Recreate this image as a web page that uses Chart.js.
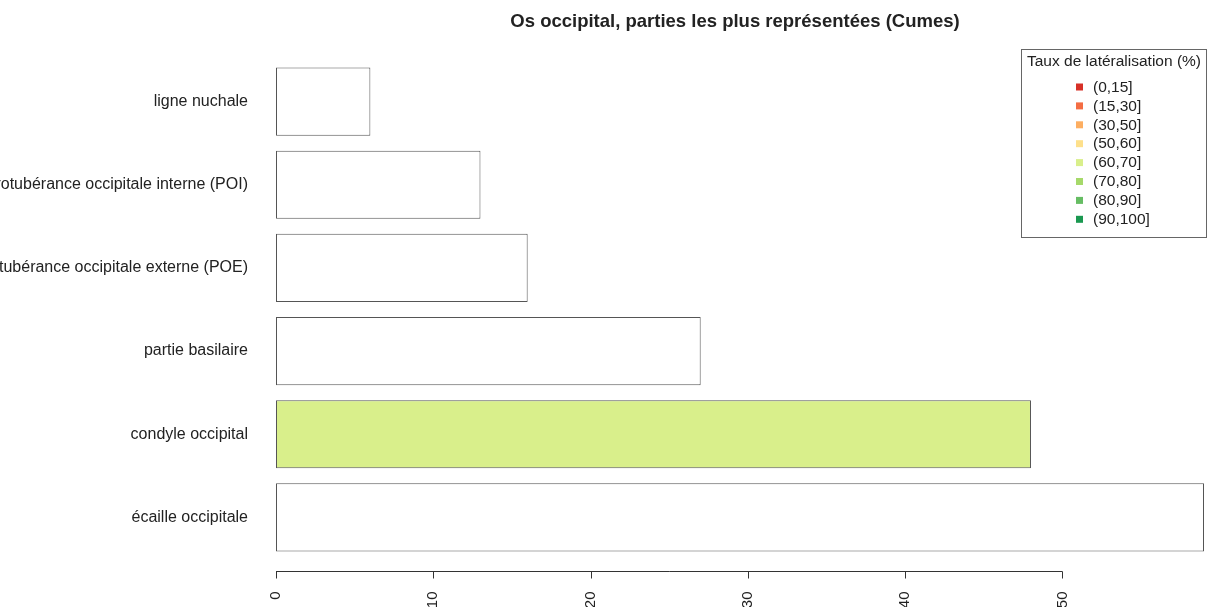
<!DOCTYPE html>
<html>
<head>
<meta charset="utf-8">
<script src="https://cdn.jsdelivr.net/npm/chart.js@4.4.1/dist/chart.umd.min.js"></script>
<style>
  html, body { margin: 0; padding: 0; background: #fff; }
  #wrap { width: 1209px; height: 607px; position: relative; }
</style>
</head>
<body>
<div id="wrap"><canvas id="chart"></canvas></div>
<script>
const titleText = "Os occipital, parties les plus représentées (Cumes)";
const parts = [
  "ligne nuchale",
  "protubérance occipitale interne (POI)",
  "protubérance occipitale externe (POE)",
  "partie basilaire",
  "condyle occipital",
  "écaille occipitale"
];
const counts = [6, 13, 16, 27, 48, 59];
// classe de latéralisation de chaque partie (null = pas de couleur)
const partClass = [null, null, null, null, "(60,70]", null];

const legendTitle = "Taux de latéralisation (%)";
const classLabels = ["(0,15]", "(15,30]", "(30,50]", "(50,60]", "(60,70]", "(70,80]", "(80,90]", "(90,100]"];
const classColors = ["#d73027", "#f46d43", "#fdae61", "#fee08b", "#d9ef8b", "#a6d96a", "#66bd63", "#1a9850"];
const xTicks = [0, 10, 20, 30, 40, 50];

const FONT = "'Liberation Sans', Arial, sans-serif";
const TEXT = "#222";

function colorFor(cls) {
  const i = classLabels.indexOf(cls);
  return i >= 0 ? classColors[i] : "#ffffff";
}

const decorPlugin = {
  id: "decor",
  afterDraw(chart) {
    const ctx = chart.ctx;
    const x = chart.scales.x;
    const area = chart.chartArea;
    ctx.save();

    // titre
    ctx.fillStyle = TEXT;
    ctx.font = "bold 18.5px " + FONT;
    ctx.textAlign = "center";
    ctx.textBaseline = "middle";
    ctx.fillText(titleText, 735, 22);

    // axe des x (0 à 50 seulement, comme R)
    const axisY = area.bottom + 12.5;
    ctx.strokeStyle = "#333";
    ctx.lineWidth = 1;
    ctx.beginPath();
    ctx.moveTo(x.getPixelForValue(xTicks[0]), axisY);
    ctx.lineTo(x.getPixelForValue(xTicks[xTicks.length - 1]), axisY);
    xTicks.forEach(t => {
      const px = Math.round(x.getPixelForValue(t)) + 0.5;
      ctx.moveTo(px, axisY);
      ctx.lineTo(px, axisY + 7);
    });
    ctx.stroke();

    ctx.font = "15px " + FONT;
    ctx.textAlign = "right";
    ctx.textBaseline = "middle";
    xTicks.forEach(t => {
      const px = x.getPixelForValue(t);
      ctx.save();
      ctx.translate(px, axisY + 20);
      ctx.rotate(-Math.PI / 2);
      ctx.fillText(String(t), 0, 0);
      ctx.restore();
    });

    // légende
    ctx.strokeStyle = "#666";
    ctx.strokeRect(1021.5, 49.5, 185, 188);
    ctx.font = "15.5px " + FONT;
    ctx.textAlign = "center";
    ctx.fillText(legendTitle, 1114, 62);
    ctx.textAlign = "left";
    classLabels.forEach((lab, i) => {
      const cy = 87 + i * 18.9;
      ctx.fillStyle = classColors[i];
      ctx.fillRect(1076, cy - 3.5, 7, 7);
      ctx.fillStyle = TEXT;
      ctx.font = "15.5px " + FONT;
      ctx.fillText(lab, 1093, cy + 0.5);
    });

    ctx.restore();
  }
};

new Chart(document.getElementById("chart"), {
  type: "bar",
  data: {
    labels: parts,
    datasets: [{
      data: counts,
      backgroundColor: partClass.map(colorFor),
      borderColor: "#555",
      borderWidth: 1,
      borderSkipped: false,
      barPercentage: 0.82,
      categoryPercentage: 1
    }]
  },
  options: {
    indexAxis: "y",
    responsive: true,
    maintainAspectRatio: false,
    animation: false,
    layout: { padding: { top: 60, bottom: 48, left: 0, right: 5 } },
    plugins: {
      legend: { display: false },
      title: { display: false },
      tooltip: { enabled: false }
    },
    scales: {
      x: {
        display: false,
        min: 0,
        max: 59
      },
      y: {
        afterFit(scale) { scale.width = 276; },
        grid: { display: false, drawTicks: false },
        border: { display: false },
        ticks: {
          padding: 28,
          color: TEXT,
          font: { family: FONT, size: 16 },
          autoSkip: false
        }
      }
    }
  },
  plugins: [decorPlugin]
});
</script>
</body>
</html>
